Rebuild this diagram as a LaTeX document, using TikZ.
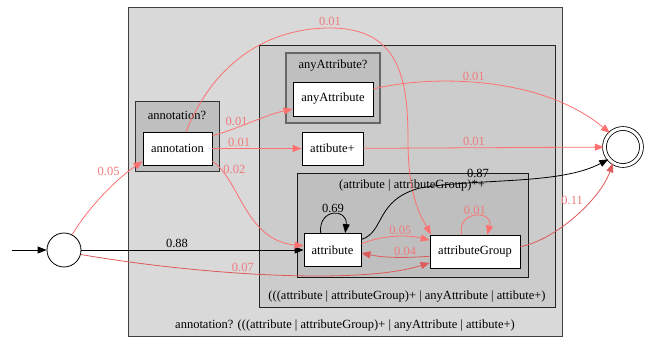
\documentclass[tikz,border=0pt]{standalone}
\usepackage{fontspec}
\setmainfont{Liberation Serif}
\usepackage{tikz}
\usetikzlibrary{arrows.meta,automata,positioning}
\usepackage{xcolor}
\definecolor{edge-red}{HTML}{FF7070}
\definecolor{edge-red-dark}{HTML}{DD5A5A}
\definecolor{label-red}{HTML}{F07A7A}
\definecolor{cluster-outer}{HTML}{D9D9D9}
\definecolor{cluster-mid}{HTML}{CCCCCC}
\definecolor{cluster-inner}{HTML}{BFBFBF}

\begin{document}
\begin{tikzpicture}[x=1pt,y=-1pt,>={Triangle[length=9pt,width=7pt]},
    font=\fontsize{12.5}{14}\selectfont]
  \tikzstyle{every state}=[draw=black,fill=white,line width=0.8pt,inner sep=0pt]
  \tikzstyle{box}=[rectangle,draw=black,fill=white,line width=0.8pt,minimum height=33pt,inner sep=0pt]
  \tikzstyle{lbl}=[text=label-red,inner sep=1.5pt]
  \tikzstyle{blbl}=[text=black,inner sep=1.5pt]
  \tikzstyle{redge}=[->,edge-red,line width=0.8pt]
  \tikzstyle{dredge}=[->,edge-red-dark,line width=0.8pt]
  \tikzstyle{bedge}=[->,black,line width=0.8pt]

  \useasboundingbox (0,0) rectangle (649,339);

  %% clusters
  \draw[fill=cluster-outer,draw=black!75,line width=0.8pt] (128,7) rectangle (562,336);
  \node (outerlbl) at (345,326) {annotation? (((attribute | attributeGroup)+ | anyAttribute | attibute+)};
  \draw[fill=cluster-mid,draw=black!85,line width=0.8pt] (259,45) rectangle (555,307);
  \node (midlbl) at (407,297) {(((attribute | attributeGroup)+ | anyAttribute | attibute+)};
  \draw[fill=cluster-inner,draw=black!60,line width=2pt] (286,53) rectangle (380,123);
  \node (anylbl) at (333,66) {anyAttribute?};
  \draw[fill=cluster-inner,draw=black!80,line width=1pt] (135,102) rectangle (219,172);
  \node (annlbl) at (177,115) {annotation?};
  \draw[fill=cluster-inner,draw=black!90,line width=0.8pt] (297,173) rectangle (528,277);
  \node (grplbl) at (412,186) {(attribute | attributeGroup)*+};

  %% states
  \coordinate (init) at (12,250);
  \node[state,minimum size=34pt] (start) at (64,250) {};
  \node[state,accepting,minimum size=37pt,double distance=3pt] (end) at (623,147) {};
  \node[box,minimum width=69pt] (annotation) at (177.5,148.5) {annotation};
  \node[box,minimum width=80pt,minimum height=34pt] (anyAttribute) at (333,99) {anyAttribute};
  \node[box,minimum width=61pt] (attibutePlus) at (332.5,148.5) {attibute+};
  \node[box,minimum width=57pt] (attribute) at (332.5,250) {attribute};
  \node[box,minimum width=90pt] (attributeGroup) at (475,251.5) {attributeGroup};

  %% from start
  \path[bedge] (init) edge (start);
  \path[bedge] (start) edge node[blbl,pos=0.43,above] {0.88} (attribute);
  \draw[redge] (start.62) .. controls (90,205) and (118,178) .. (annotation.200)
    node[lbl,pos=0.72,above left] {0.05};
  \draw[dredge] (start.-15) .. controls (200,275) and (360,285) .. (attributeGroup.194)
    node[lbl,pos=0.42,above] {0.07};

  %% from annotation
  \draw[redge] (annotation.20) .. controls (240,128) and (265,115) .. (anyAttribute.194)
    node[lbl,pos=0.3,above] {0.01};
  \path[redge] (annotation) edge node[lbl,pos=0.3,above] {0.01} (attibutePlus);
  \draw[redge] (annotation.-20) .. controls (240,180) and (245,240) .. (attribute.172)
    node[lbl,pos=0.12,right] {0.02};
  \draw[redge] (annotation.63) .. controls (215,60) and (270,28) .. (330,28)
    node[lbl,above] {0.01}
    .. controls (400,28) and (408,80) .. (408,140)
    .. controls (408,195) and (420,215) .. (attributeGroup.159);

  %% to the end state
  \draw[redge] (anyAttribute.14) .. controls (430,75) and (540,75) .. (end.133)
    node[lbl,pos=0.45,above] {0.01};
  \path[redge] (attibutePlus) edge node[lbl,pos=0.46,above] {0.01} (end);
  \draw[bedge] (attribute.20) .. controls (385,232) and (375,200) .. (420,188)
    .. controls (480,178) and (560,185) .. (end.220)
    node[blbl,pos=0.3,above=2.5pt] {0.87};
  \draw[dredge] (attributeGroup.6) .. controls (555,240) and (600,200) .. (end.238)
    node[lbl,pos=0.6,above left] {0.11};

  %% attribute group
  \draw[bedge] (attribute.125) .. controls (318,208) and (348,208) .. (attribute.53)
    node[blbl,pos=0.5,above] {0.69};
  \draw[redge] (attribute.12) .. controls (380,236) and (405,234) .. (attributeGroup.166)
    node[lbl,pos=0.6,above] {0.05};
  \draw[dredge] (attributeGroup.186) .. controls (405,258) and (385,258) .. (attribute.-6)
    node[lbl,pos=0.35,above] {0.04};
  \draw[redge] (attributeGroup.128) .. controls (456,210) and (494,210) .. (attributeGroup.54)
    node[lbl,pos=0.5,above] {0.01};
\end{tikzpicture}
\end{document}
